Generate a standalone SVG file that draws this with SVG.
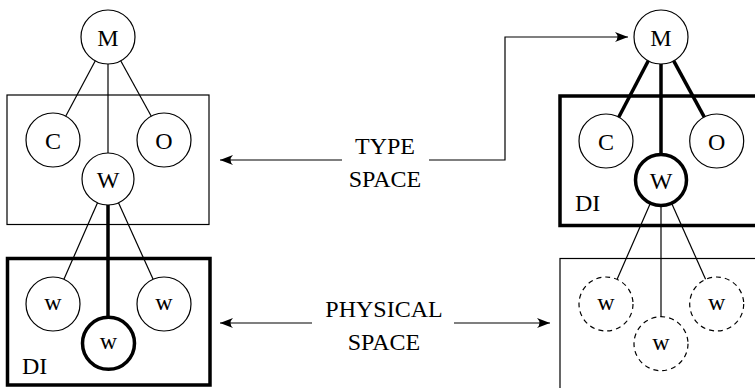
<svg xmlns="http://www.w3.org/2000/svg" width="755" height="388" viewBox="0 0 755 388">
  <style>
    .thin { fill: none; stroke: #000; stroke-width: 1.2; }
    .thick { fill: none; stroke: #000; stroke-width: 3.5; }
    .node { fill: #fff; stroke: #000; stroke-width: 1.2; }
    .bold { fill: #fff; stroke: #000; stroke-width: 3.5; }
    .dash { fill: #fff; stroke: #000; stroke-width: 1.2; stroke-dasharray: 5 4; }
    text { font-family: "Liberation Serif", "Times New Roman", serif; font-size: 24px; fill: #000; }
    .c { text-anchor: middle; }
    .lbl { font-size: 24px; text-anchor: middle; }
  </style>
  <defs>
    <marker id="arr" markerUnits="userSpaceOnUse" markerWidth="16" markerHeight="12" viewBox="-14 -6 16 12" refX="0" refY="0" orient="auto">
      <path d="M0,0 L-13,-5 Q-8,0 -13,5 Z" fill="#000"/>
    </marker>
  </defs>

  <!-- boxes -->
  <g id="type-box-left"><rect x="7" y="95" width="202" height="129.5" class="thin"/></g>
  <g id="di-box-left"><rect x="7.5" y="258.5" width="202.5" height="126.5" class="thick"/><text x="22" y="374">DI</text></g>
  <g id="di-box-right"><rect x="560" y="96" width="210" height="129.5" class="thick"/><text x="575" y="211">DI</text></g>
  <g id="phys-box-right"><rect x="560" y="258.5" width="210" height="150" class="thin"/></g>

  <!-- connectors -->
  <g id="connectors">
    <!-- left tree -->
    <line x1="95.3" y1="60.8" x2="65.7" y2="116.2" class="thin"/>
    <line x1="108" y1="64" x2="108" y2="153" class="thin"/>
    <line x1="120.7" y1="60.8" x2="151.3" y2="116.2" class="thin"/>
    <line x1="97.5" y1="202.8" x2="63.9" y2="279.3" class="thin"/>
    <line x1="118.5" y1="202.8" x2="153.1" y2="279.3" class="thin"/>
    <line x1="108" y1="205" x2="108" y2="316" class="thick"/>
    <!-- right tree -->
    <line x1="648.3" y1="60.8" x2="618.7" y2="117.2" class="thick"/>
    <line x1="661" y1="64" x2="661" y2="153" class="thick"/>
    <line x1="673.7" y1="60.8" x2="704.3" y2="117.2" class="thick"/>
    <line x1="650.5" y1="203" x2="617" y2="279.5" class="thin"/>
    <line x1="661" y1="207" x2="661" y2="316.7" class="thin"/>
    <line x1="671.5" y1="203" x2="705.7" y2="279.5" class="thin"/>
    <!-- arrows -->
    <line x1="342" y1="160" x2="220" y2="160" class="thin" marker-end="url(#arr)"/>
    <polyline points="429,160 505,160 505,37 628,37" class="thin" marker-end="url(#arr)"/>
    <line x1="312" y1="323" x2="220" y2="323" class="thin" marker-end="url(#arr)"/>
    <line x1="454" y1="323" x2="550" y2="323" class="thin" marker-end="url(#arr)"/>
  </g>

  <!-- left nodes -->
  <g id="M-left"><circle cx="108" cy="37" r="27" class="node"/><text x="108" y="45.5" class="c">M</text></g>
  <g id="C-left"><circle cx="53" cy="140" r="27" class="node"/><text x="53" y="148.5" class="c">C</text></g>
  <g id="O-left"><circle cx="164" cy="140" r="27" class="node"/><text x="164" y="148.5" class="c">O</text></g>
  <g id="W-left"><circle cx="108" cy="179" r="26" class="node"/><text x="108" y="187.5" class="c">W</text></g>
  <g id="w1-left"><circle cx="53" cy="304" r="27" class="node"/><text x="53" y="309.5" class="c">w</text></g>
  <g id="w2-left"><circle cx="164" cy="304" r="27" class="node"/><text x="164" y="309.5" class="c">w</text></g>
  <g id="w3-left"><circle cx="108.5" cy="343.3" r="26" class="bold"/><text x="108.5" y="349" class="c">w</text></g>

  <!-- right nodes -->
  <g id="M-right"><circle cx="661" cy="37" r="27" class="node"/><text x="661" y="45.5" class="c">M</text></g>
  <g id="C-right"><circle cx="606" cy="141" r="27" class="node"/><text x="606" y="149.5" class="c">C</text></g>
  <g id="O-right"><circle cx="716.7" cy="141" r="27" class="node"/><text x="716.7" y="149.5" class="c">O</text></g>
  <g id="W-right"><circle cx="661" cy="180" r="25.5" class="bold"/><text x="661" y="188.5" class="c">W</text></g>
  <g id="w1-right"><circle cx="606" cy="304" r="27" class="dash"/><text x="606" y="309.5" class="c">w</text></g>
  <g id="w2-right"><circle cx="716.7" cy="304" r="27" class="dash"/><text x="716.7" y="309.5" class="c">w</text></g>
  <g id="w3-right"><circle cx="661" cy="343.7" r="27" class="dash"/><text x="661" y="349.5" class="c">w</text></g>

  <!-- labels -->
  <g id="label-type"><text x="385" y="154" class="lbl">TYPE</text><text x="385" y="187" class="lbl">SPACE</text></g>
  <g id="label-physical"><text x="384" y="317" class="lbl">PHYSICAL</text><text x="384" y="350" class="lbl">SPACE</text></g>
</svg>
